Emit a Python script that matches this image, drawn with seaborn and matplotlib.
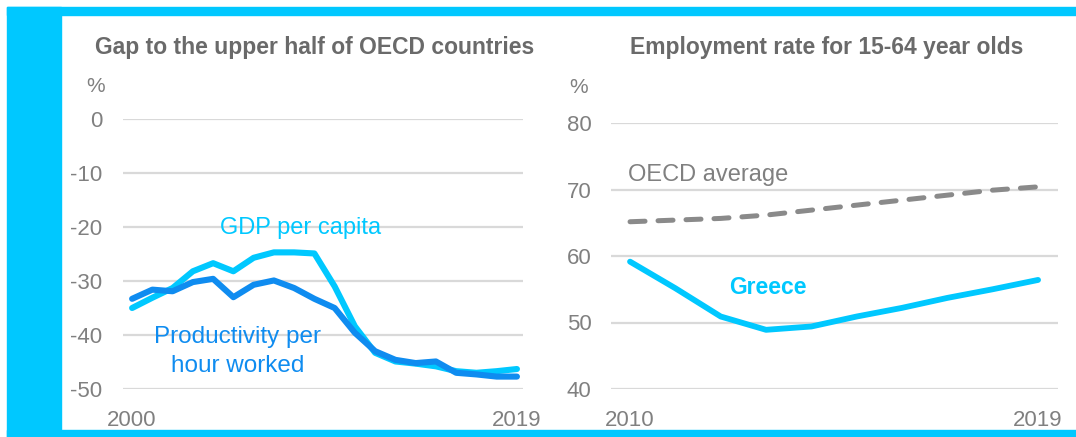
import matplotlib
matplotlib.use("Agg")
import matplotlib.pyplot as plt
from matplotlib.patches import Rectangle
import seaborn as sns
import pandas as pd

# ---- data ----
years_gap = list(range(2000, 2020))
gdp_per_capita = [-35.0, -33.1, -31.3, -28.2, -26.7, -28.2, -25.7, -24.7, -24.7, -24.9,
                  -31.0, -38.4, -43.3, -44.9, -45.3, -45.8, -46.7, -47.0, -46.7, -46.3]
productivity = [-33.3, -31.6, -31.9, -30.2, -29.6, -33.0, -30.7, -29.9, -31.3, -33.3,
                -35.0, -39.6, -43.0, -44.6, -45.2, -44.9, -47.0, -47.3, -47.7, -47.7]

years_emp = list(range(2010, 2020))
oecd_average = [65.15, 65.4, 65.65, 66.15, 66.9, 67.65, 68.4, 69.15, 69.9, 70.4]
greece = [59.15, 55.15, 50.9, 48.9, 49.4, 50.9, 52.2, 53.7, 55.0, 56.4]

gap_ticks = [0, -10, -20, -30, -40, -50]
gap_xticks = [2000, 2019]
emp_ticks = [80, 70, 60, 50, 40]
emp_xticks = [2010, 2019]

title_left = "Gap to the upper half of OECD countries"
title_right = "Employment rate for 15-64 year olds"

# ---- style ----
sns.set_style("white")
plt.rcParams['font.family'] = ['Liberation Sans', 'DejaVu Sans']

CYAN = "#00C8FF"
BLUE = "#0F8CF0"
GREY = "#8a8a8a"
TXT = "#808080"
TITLE = "#6a6a6a"
GRID = "#d9d9d9"

W, H = 1076, 437
fig = plt.figure(figsize=(W / 100, H / 100), dpi=100)

# frame
def fr(x0, y0, x1, y1, color):
    fig.patches.append(Rectangle((x0 / W, 1 - y1 / H), (x1 - x0) / W, (y1 - y0) / H,
                                 transform=fig.transFigure, color=color, zorder=-10))
fr(7, 7, W, 15, CYAN)
fr(7, 7, 61, H, CYAN)
fr(7, 430, W, H, CYAN)

ax1 = fig.add_axes([123 / W, (H - 389) / H, 400 / W, 270 / H])
ax2 = fig.add_axes([611 / W, (H - 389) / H, 447 / W, 266 / H])

df_gap = pd.DataFrame({
    "year": years_gap * 2,
    "value": gdp_per_capita + productivity,
    "series": ["GDP per capita"] * len(years_gap) + ["Productivity"] * len(years_gap),
})
df_emp = pd.DataFrame({
    "year": years_emp * 2,
    "value": oecd_average + greece,
    "series": ["OECD average"] * len(years_emp) + ["Greece"] * len(years_emp),
})

sns.lineplot(data=df_gap[df_gap.series == "Productivity"], x="year", y="value",
             color=BLUE, lw=4.4, ax=ax1, legend=False, solid_capstyle="round", zorder=3)
sns.lineplot(data=df_gap[df_gap.series == "GDP per capita"], x="year", y="value",
             color=CYAN, lw=4.4, ax=ax1, legend=False, solid_capstyle="round", zorder=2)

sns.lineplot(data=df_emp[df_emp.series == "OECD average"], x="year", y="value",
             color=GREY, lw=3.6, ax=ax2, legend=False, dashes=False, zorder=3)
ax2.lines[-1].set_dashes((3, 2.6))
ax2.lines[-1].set_dash_capstyle("round")
sns.lineplot(data=df_emp[df_emp.series == "Greece"], x="year", y="value",
             color=CYAN, lw=4.2, ax=ax2, legend=False, solid_capstyle="round", zorder=3)

for ax in (ax1, ax2):
    for s in ax.spines.values():
        s.set_visible(False)
    ax.set_xlabel("")
    ax.set_ylabel("")
    ax.grid(axis="y", color=GRID, lw=1.6)
    ax.set_axisbelow(True)
    ax.tick_params(length=0, labelsize=16, colors=TXT)
    ax.set_facecolor("none")

ax1.set_xlim(1999.55, 2019.3)
ax1.set_ylim(-50, 0)
ax1.set_yticks(gap_ticks)
ax1.set_xticks(gap_xticks)
ax1.set_yticklabels([str(v) for v in gap_ticks])
ax1.set_xticklabels([str(v) for v in gap_xticks])
ax1.tick_params(axis="x", pad=15)
ax1.tick_params(axis="y", pad=15)

ax2.set_xlim(2009.58, 2019.44)
ax2.set_ylim(40, 80)
ax2.set_yticks(emp_ticks)
ax2.set_xticks(emp_xticks)
ax2.set_xticklabels([str(v) for v in emp_xticks])
ax2.tick_params(axis="x", pad=15)
ax2.tick_params(axis="y", pad=14)

# titles and unit labels
ax1.text(-0.07, 1.263, title_left, transform=ax1.transAxes, ha="left", va="center",
         fontsize=16.5, fontweight="bold", color=TITLE)
ax2.text(0.0425, 1.282, title_right, transform=ax2.transAxes, ha="left", va="center",
         fontsize=16.5, fontweight="bold", color=TITLE)
ax1.text(-0.0675, 1.122, "%", transform=ax1.transAxes, ha="center", va="center",
         fontsize=15, color=TXT)
ax2.text(-0.0716, 1.132, "%", transform=ax2.transAxes, ha="center", va="center",
         fontsize=15, color=TXT)

# series labels
ax1.text(2008.3, -20.2, "GDP per capita", ha="center", va="center", fontsize=17, color=CYAN)
ax1.text(2005.2, -43.0, "Productivity per\nhour worked", ha="center", va="center",
         fontsize=17.5, color=BLUE, linespacing=1.4)
ax2.text(2009.96, 72.2, "OECD average", ha="left", va="center", fontsize=17, color=TXT)
ax2.text(2013.05, 55.2, "Greece", ha="center", va="center", fontsize=16.5, color=CYAN,
         fontweight="bold")

fig.savefig("out.png", dpi=100)
